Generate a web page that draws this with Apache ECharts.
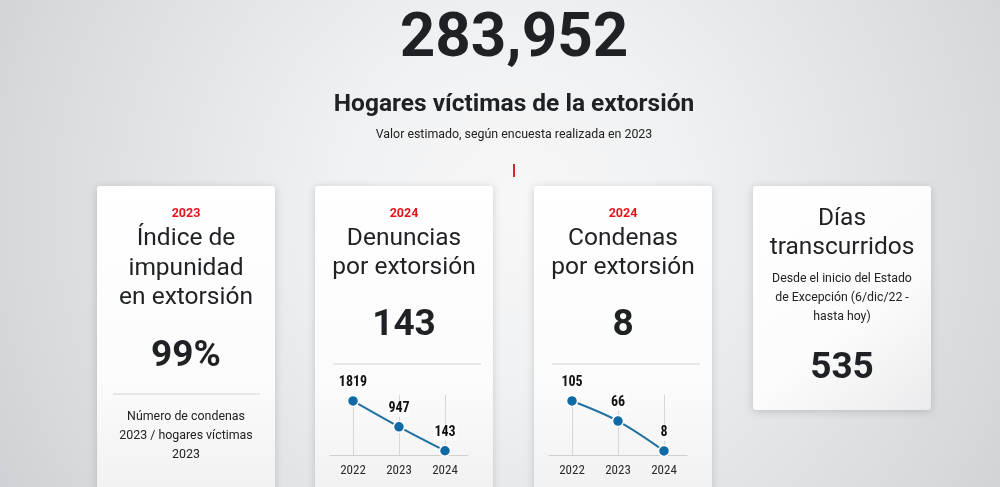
<!DOCTYPE html>
<html><head><meta charset="utf-8">
<script src="https://cdn.jsdelivr.net/npm/echarts@6/dist/echarts.min.js"></script>
<style>html,body{margin:0;padding:0;width:1000px;height:487px;overflow:hidden;background:#e9eaeb}#c{width:1000px;height:487px}</style>
</head><body><div id="c"></div><script>
// ---- data ----
const years = ['2022', '2023', '2024'];
const denuncias = [1819, 947, 143];
const condenas = [105, 66, 8];
const hogaresVictimas = '283,952';
const impunidad = '99%';
const diasTranscurridos = '535';
const cardYears = ['2023', '2024', '2024'];
const cardTitles = ['Índice de\nimpunidad\nen extorsión', 'Denuncias\npor extorsión', 'Condenas\npor extorsión', 'Días\ntranscurridos'];

// ---- layout / style ----
const FONT = 'Roboto';
const NARROW = "'Roboto Condensed','Liberation Sans Narrow','DejaVu Sans Condensed',sans-serif";
const INK = '#1f2124';
const RED = '#e3151a';
const cardX = [97, 315, 534, 753];
const cardW = 178;
const cx = cardX.map(x => x + cardW / 2);

const chart = echarts.init(document.getElementById('c'));

function txt(text, x, y, font, color, lineHeight) {
  return { type: 'text', z: 10, style: { text, x, y, font, fill: color || INK, align: 'center', verticalAlign: 'middle', lineHeight: lineHeight || undefined } };
}
function hline(x1, x2, y, color, w) {
  return { type: 'line', z: 5, shape: { x1, y1: y, x2, y2: y }, style: { stroke: color || '#e1e1e1', lineWidth: w || 1.5 } };
}
function card(x, h, diag) {
  return {
    type: 'rect', z: -5, shape: { x, y: 186, width: cardW, height: h, r: 3 },
    style: {
      fill: { type: 'linear', x: 0, y: 0, x2: diag ? 1 : 0, y2: 1, colorStops: [{ offset: 0, color: '#ffffff' }, { offset: 0.6, color: '#fbfbfb' }, { offset: 1, color: diag ? '#ebebed' : '#efeff0' }] },
      shadowBlur: 8, shadowColor: 'rgba(0,0,0,0.17)', shadowOffsetY: 1.5
    }
  };
}

const graphics = [
  card(cardX[0], 330), card(cardX[1], 330), card(cardX[2], 330), card(cardX[3], 224, true),
  txt(hogaresVictimas, 514, 40, 'bold 62px ' + FONT),
  txt('Hogares víctimas de la extorsión', 514, 105, 'bold 24.5px ' + FONT),
  txt('Valor estimado, según encuesta realizada en 2023', 514, 135, '12.4px ' + FONT, '#222'),
  { type: 'line', z: 5, shape: { x1: 514, y1: 164, x2: 514, y2: 177 }, style: { stroke: '#d9262b', lineWidth: 2 } },
  // red years
  txt(cardYears[0], cx[0], 214, 'bold 12.5px ' + FONT, RED),
  txt(cardYears[1], cx[1], 214, 'bold 12.5px ' + FONT, RED),
  txt(cardYears[2], cx[2], 214, 'bold 12.5px ' + FONT, RED),
  // titles
  txt(cardTitles[0], cx[0], 268.5, '24.5px ' + FONT, INK, 29.5),
  txt(cardTitles[1], cx[1], 253.5, '24.5px ' + FONT, INK, 29.5),
  txt(cardTitles[2], cx[2], 253.5, '24.5px ' + FONT, INK, 29.5),
  txt(cardTitles[3], cx[3], 233.5, '24.5px ' + FONT, INK, 29.5),
  // big values
  txt(impunidad, cx[0], 357, 'bold 37px ' + FONT),
  txt(String(denuncias[denuncias.length - 1]), cx[1], 326, 'bold 37px ' + FONT),
  txt(String(condenas[condenas.length - 1]), cx[2], 326, 'bold 37px ' + FONT),
  txt(diasTranscurridos, cx[3], 369, 'bold 37px ' + FONT),
  // dividers
  hline(113, 260, 394), hline(333, 481, 364), hline(552, 700, 364),
  // descriptions
  txt('Número de condenas\n2023 / hogares víctimas\n2023', cx[0], 436, '12.4px ' + FONT, '#222', 19),
  txt('Desde el inicio del Estado\nde Excepción (6/dic/22 -\nhasta hoy)', cx[3], 298, '12.3px ' + FONT, '#222', 19)
];

function xAx(gi) {
  return {
    type: 'category', gridIndex: gi, data: years, boundaryGap: true, z: 3,
    axisLine: { lineStyle: { color: '#cfcfcf', width: 1.2 } },
    axisTick: { show: false },
    axisLabel: { color: '#2a2a2a', fontSize: 13, fontFamily: NARROW, margin: 9 },
    splitLine: { show: true, alignWithLabel: true, lineStyle: { color: '#d6d6d6', width: 1 } }
  };
}
function yAx(gi) {
  return { type: 'value', gridIndex: gi, min: 0, max: v => v.max * 1.11, show: false, splitLine: { show: false } };
}
function ser(gi, data) {
  return {
    type: 'line', xAxisIndex: gi, yAxisIndex: gi, data, smooth: 0.35,
    symbol: 'circle', symbolSize: 11,
    lineStyle: { color: '#22709f', width: 2 },
    itemStyle: { color: '#0f6aa6', borderColor: '#ffffff', borderWidth: 1.5 },
    label: { show: true, position: 'top', distance: 4, color: '#111', fontSize: 14, fontWeight: 'bold', fontFamily: NARROW, backgroundColor: '#fcfcfc', padding: [1, 1] },
    z: 5
  };
}

chart.setOption({
  animation: false,
  backgroundColor: { type: 'radial', x: 0.514, y: 0.42, r: 1.2, colorStops: [
    { offset: 0, color: '#f7f7f8' }, { offset: 0.3, color: '#f0f1f2' }, { offset: 0.6, color: '#e3e4e6' },
    { offset: 0.85, color: '#d7d9db' }, { offset: 1, color: '#cfd1d4' }] },
  graphic: graphics,
  grid: [
    { left: 330, top: 395, width: 138, height: 60 },
    { left: 549, top: 395, width: 138, height: 60 }
  ],
  xAxis: [xAx(0), xAx(1)],
  yAxis: [yAx(0), yAx(1)],
  series: [ser(0, denuncias), ser(1, condenas)]
});
</script></body></html>
